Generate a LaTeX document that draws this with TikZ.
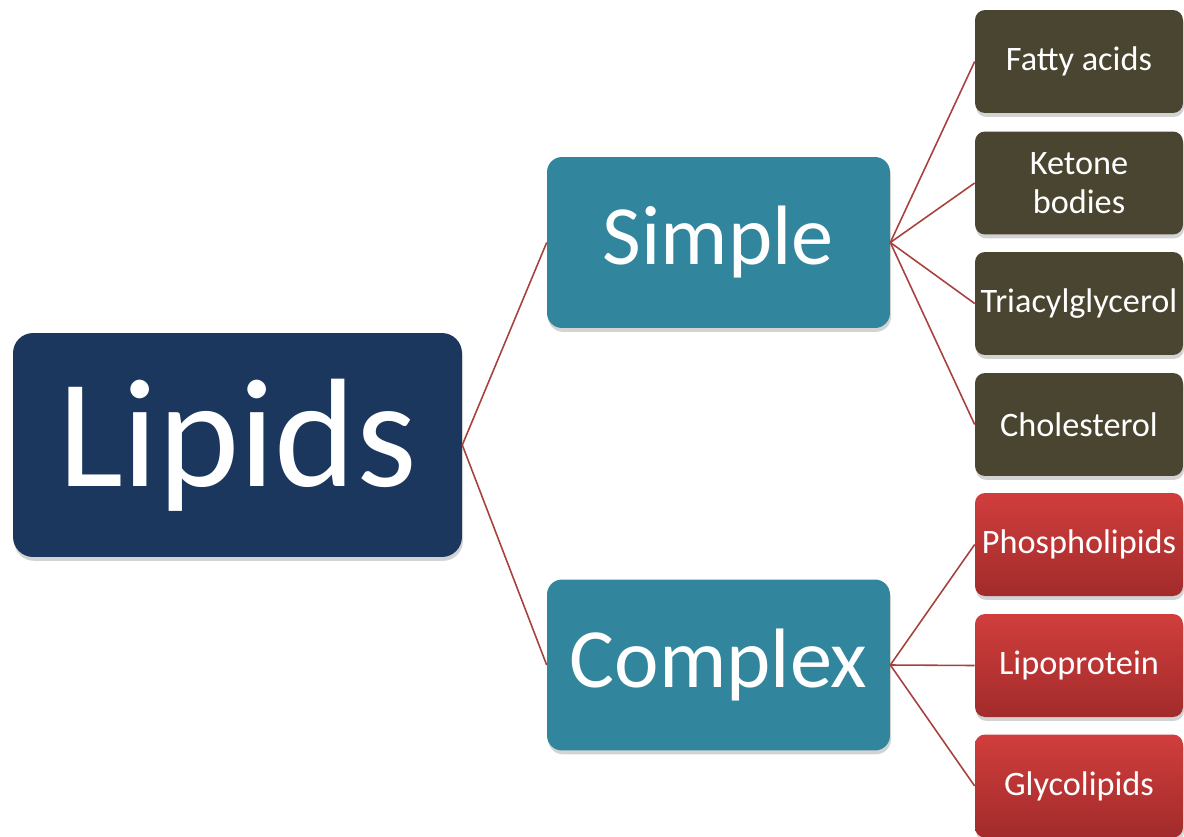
\documentclass[tikz,border=0pt]{standalone}
\usepackage{fontspec}
\setmainfont{Carlito}
\usetikzlibrary{shadows}
\definecolor{navy}{HTML}{1B375E}
\definecolor{teal}{HTML}{31859C}
\definecolor{olive}{HTML}{4A4530}
\definecolor{redtop}{HTML}{D03E3C}
\definecolor{redbot}{HTML}{A22B2B}
\definecolor{linkred}{HTML}{A8403E}
\tikzset{
  box/.style={rectangle, text=white, inner sep=0pt, align=center,
    drop shadow={opacity=0.35, shadow xshift=0.6pt, shadow yshift=-2.2pt}},
  rootbox/.style={box, fill=navy, minimum width=8.98cm, minimum height=4.48cm,
    rounded corners=0.4cm, font=\fontsize{88}{96}\selectfont},
  midbox/.style={box, fill=teal, minimum width=6.86cm, minimum height=3.42cm,
    rounded corners=0.3cm, font=\fontsize{48}{54}\selectfont},
  leafbox/.style={box, minimum width=4.16cm, minimum height=2.06cm,
    rounded corners=0.2cm, font=\fontsize{19.5}{22}\selectfont},
  simpleleaf/.style={leafbox, fill=olive},
  complexleaf/.style={leafbox, top color=redtop, bottom color=redbot},
  link/.style={draw=linkred, line width=0.9pt}
}
\begin{document}
\begin{tikzpicture}[x=0.02cm, y=-0.02cm]
\useasboundingbox (0,0) rectangle (1184,836);

\node[rootbox] (lipids) at (237.5,445) {Lipids};
\node[midbox] (simple) at (718.5,242.5) {Simple};
\node[midbox] (complex) at (718.5,665) {Complex};

\node[simpleleaf] (fatty) at (1079,61.5) {Fatty acids};
\node[simpleleaf] (ketone) at (1079,183) {Ketone\\bodies};
\node[simpleleaf] (tag) at (1079,303.5) {Triacylglycerol};
\node[simpleleaf] (chol) at (1079,424.5) {Cholesterol};

\node[complexleaf] (phospho) at (1079,544.5) {Phospholipids};
\node[complexleaf] (lipo) at (1079,665.5) {Lipoprotein};
\node[complexleaf] (glyco) at (1079,786) {Glycolipids};

\draw[link] (lipids.east) -- (simple.west);
\draw[link] (lipids.east) -- (complex.west);
\foreach \n in {fatty,ketone,tag,chol}
  \draw[link] (simple.east) -- (\n.west);
\foreach \n in {phospho,lipo,glyco}
  \draw[link] (complex.east) -- (\n.west);
\end{tikzpicture}
\end{document}
